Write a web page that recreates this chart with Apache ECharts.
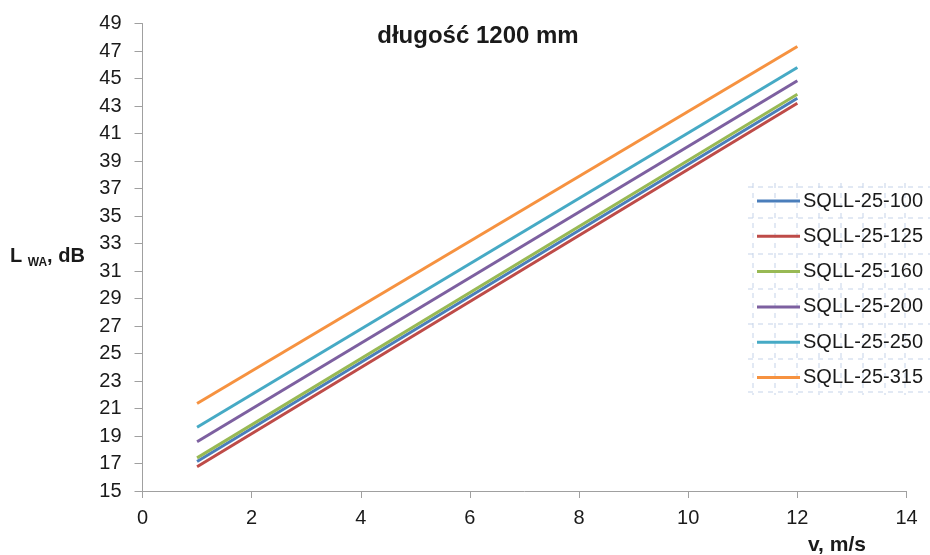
<!DOCTYPE html>
<html>
<head>
<meta charset="utf-8">
<script src="https://cdn.jsdelivr.net/npm/echarts@6/dist/echarts.min.js"></script>
<style>html,body{margin:0;padding:0;background:#fff}#c{width:930px;height:555px}</style>
</head>
<body>
<div id="c"></div>
<script>
var seriesNames = ['SQLL-25-100','SQLL-25-125','SQLL-25-160','SQLL-25-200','SQLL-25-250','SQLL-25-315'];
var velocities = [1, 12];
var s100 = [17.15, 43.57];
var s125 = [16.76, 43.2];
var s160 = [17.41, 43.86];
var s200 = [18.58, 44.83];
var s250 = [19.64, 45.8];
var s315 = [21.36, 47.33];
var colors = ['#4a7ebb','#be4b48','#98b954','#7d60a0','#46aac5','#f69240'];
var allValues = [s100, s125, s160, s200, s250, s315];

var font = '"Liberation Sans", Arial, sans-serif';
var chart = echarts.init(document.getElementById('c'));

var graphics = [];
var gx = [753, 775, 797, 819, 841, 863, 885, 905];
var gy = [187, 218, 254, 289, 324, 359, 392];
var dashColor = '#c6d4ea';
gx.forEach(function(x){
  graphics.push({type:'line', shape:{x1:x,y1:183,x2:x,y2:395}, style:{stroke:dashColor, lineWidth:1, lineDash:[5,5]}, z:1});
});
gy.forEach(function(y){
  graphics.push({type:'line', shape:{x1:748,y1:y,x2:930,y2:y}, style:{stroke:dashColor, lineWidth:1, lineDash:[5,5]}, z:1});
});
graphics.push({
  type:'text', left:10, top:246, z:10,
  style:{
    text:'{a|L }{s|WA}{a|, dB}',
    rich:{
      a:{fontFamily:font, fontWeight:'bold', fontSize:20, fill:'#1a1a1a', verticalAlign:'bottom', lineHeight:24},
      s:{fontFamily:font, fontWeight:'bold', fontSize:12, fill:'#1a1a1a', verticalAlign:'bottom', lineHeight:24, padding:[0,0,-3,0]}
    }
  }
});
graphics.push({
  type:'text', left:808, top:535, z:10,
  style:{text:'v, m/s', fontFamily:font, fontWeight:'bold', fontSize:21, fill:'#1a1a1a'}
});

chart.setOption({
  animation:false,
  color: colors,
  title:{
    text:'długość 1200 mm', left:473, top:19, textAlign:'center',
    textStyle:{fontFamily:font, fontWeight:'bold', fontSize:24, color:'#1a1a1a'}
  },
  grid:{left:142.5, right:23.5, top:23.5, bottom:64},
  legend:{
    orient:'vertical', left:757, top:190, padding:0,
    data: seriesNames,
    icon:'rect', itemWidth:43, itemHeight:3, itemGap:13.3,
    textStyle:{fontFamily:font, fontSize:20, color:'#1a1a1a', lineHeight:22, padding:[0,0,0,-2]}
  },
  xAxis:{
    type:'value', min:0, max:14, interval:2,
    axisLine:{lineStyle:{color:'#a0a0a0', width:1}},
    axisTick:{show:true, length:7, lineStyle:{color:'#a0a0a0'}},
    axisLabel:{fontFamily:font, fontSize:20, color:'#1a1a1a', margin:17},
    splitLine:{show:false}
  },
  yAxis:{
    type:'value', min:15, max:49, interval:2,
    axisLine:{show:true, lineStyle:{color:'#a0a0a0', width:1}},
    axisTick:{show:true, length:8, lineStyle:{color:'#a0a0a0'}},
    axisLabel:{fontFamily:font, fontSize:20, color:'#1a1a1a', margin:21},
    splitLine:{show:false}
  },
  graphic: graphics,
  series: seriesNames.map(function(n, i){
    return {
      name:n, type:'line', showSymbol:false, symbol:'none',
      lineStyle:{width:3, color:colors[i]},
      itemStyle:{color:colors[i]},
      data: velocities.map(function(v, j){ return [v, allValues[i][j]]; }),
      z:3
    };
  })
});
</script>
</body>
</html>
